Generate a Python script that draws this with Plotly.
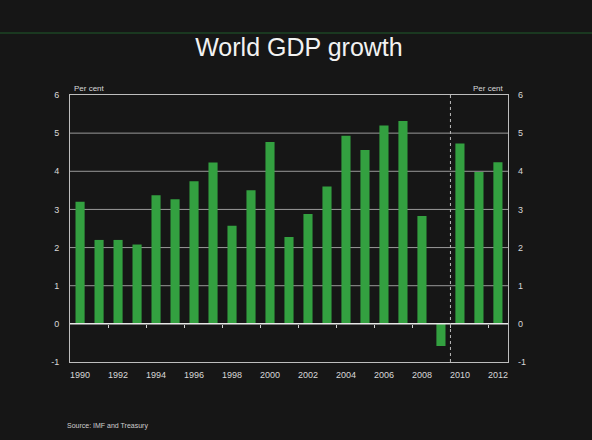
import plotly.graph_objects as go

years = list(range(1990, 2013))
growth = [3.2, 2.2, 2.2, 2.08, 3.37, 3.27, 3.74, 4.23, 2.57, 3.5, 4.77, 2.28,
          2.88, 3.6, 4.93, 4.56, 5.2, 5.32, 2.83, -0.58, 4.73, 3.98, 4.24]
last_actual_year = 2009
tick_years = list(range(1990, 2013, 2))
y_ticks = [-1, 0, 1, 2, 3, 4, 5, 6]
y_tick_labels = ["-1", "0", "1", "2", "3", "4", "5", "6"]

title_text = "World GDP growth"
unit_label = "Per cent"
source_text = "Source: IMF and Treasury"

bg = "#161616"
font_family = "Liberation Sans, Arial, sans-serif"
tick_col = "#d8d8d8"
grid_col = "#9a9a9a"
y_min, y_max = y_ticks[0], y_ticks[-1]
x_range = [years[0] - 0.53, years[-1] + 0.53]

fig = go.Figure()
fig.add_trace(go.Bar(x=years, y=growth, marker=dict(color="#33a040", line=dict(width=0)),
                     width=0.48, showlegend=False, hoverinfo="x+y"))
# invisible trace to anchor the right-hand axis and the zero-line tick axis
fig.add_trace(go.Scatter(x=[years[0]], y=[growth[0]], xaxis="x2", yaxis="y2", mode="markers",
                         marker=dict(opacity=0), showlegend=False, hoverinfo="skip"))

yaxis_common = dict(range=[y_min, y_max], tickvals=y_ticks, ticktext=y_tick_labels, ticks="",
                    showgrid=False, zeroline=False,
                    tickfont=dict(family=font_family, size=9, color=tick_col),
                    fixedrange=True)

fig.update_layout(
    width=592, height=440,
    paper_bgcolor=bg, plot_bgcolor=bg,
    margin=dict(l=70, r=84, t=95, b=78),
    bargap=0.5,
    xaxis=dict(range=x_range, tickvals=tick_years,
               ticktext=[str(y) for y in tick_years], ticks="", showgrid=False,
               zeroline=False, showline=True, mirror=True, linecolor="#bdbdbd", linewidth=1,
               tickfont=dict(family=font_family, size=9, color=tick_col), ticklabelstandoff=4,
               fixedrange=True),
    xaxis2=dict(range=x_range, overlaying="x", anchor="free",
                position=(0 - y_min) / (y_max - y_min), side="bottom",
                tickvals=[y + 1.5 for y in tick_years[:-1]], ticks="outside", ticklen=3,
                tickcolor="#cfcfcf", tickwidth=1, showticklabels=False, showline=False,
                showgrid=False, zeroline=False, fixedrange=True),
    yaxis=dict(**yaxis_common, showline=True, mirror=True, linecolor="#bdbdbd", linewidth=1,
               ticklabelstandoff=8),
    yaxis2=dict(**yaxis_common, overlaying="y", side="right", showline=False,
                ticklabelstandoff=9),
    title=dict(text=title_text, x=0.505, xanchor="center", y=1 - 47 / 440, yanchor="middle",
               font=dict(family=font_family, size=25, color="#f2f2f2")),
)

# horizontal gridlines (1..5) and zero line
for v in y_ticks[2:-1]:
    fig.add_shape(type="line", xref="paper", yref="y", x0=0, x1=1, y0=v, y1=v,
                  line=dict(color=grid_col, width=1), layer="below")
fig.add_shape(type="line", xref="paper", yref="y", x0=0, x1=1, y0=0, y1=0,
              line=dict(color="#e6e6e6", width=1.5), layer="above")

# dotted forecast divider
fig.add_shape(type="line", xref="x", yref="y", x0=last_actual_year + 0.5, x1=last_actual_year + 0.5,
              y0=y_min, y1=y_max, line=dict(color="#bbbbbb", width=1, dash="dot"))

# green header rule
fig.add_shape(type="line", xref="paper", yref="paper", x0=-0.2, x1=1.3,
              y0=1 + (95 - 33) / 267, y1=1 + (95 - 33) / 267,
              line=dict(color="#1f5a2a", width=1))

fig.add_annotation(text=unit_label, xref="paper", yref="paper", x=0.005, y=1, xanchor="left",
                   yanchor="bottom", showarrow=False,
                   font=dict(family=font_family, size=8, color=tick_col))
fig.add_annotation(text=unit_label, xref="paper", yref="paper", x=0.995, y=1, xanchor="right",
                   yanchor="bottom", showarrow=False,
                   font=dict(family=font_family, size=8, color=tick_col))
fig.add_annotation(text=source_text, xref="paper", yref="paper", x=-0.012, y=-(426 - 362) / 267,
                   xanchor="left", yanchor="middle", showarrow=False,
                   font=dict(family=font_family, size=7, color="#cfcfcf"))

fig.write_html("out.html", config={"displayModeBar": False},
               post_script="document.body.style.margin='0';document.body.style.background='#161616';")
